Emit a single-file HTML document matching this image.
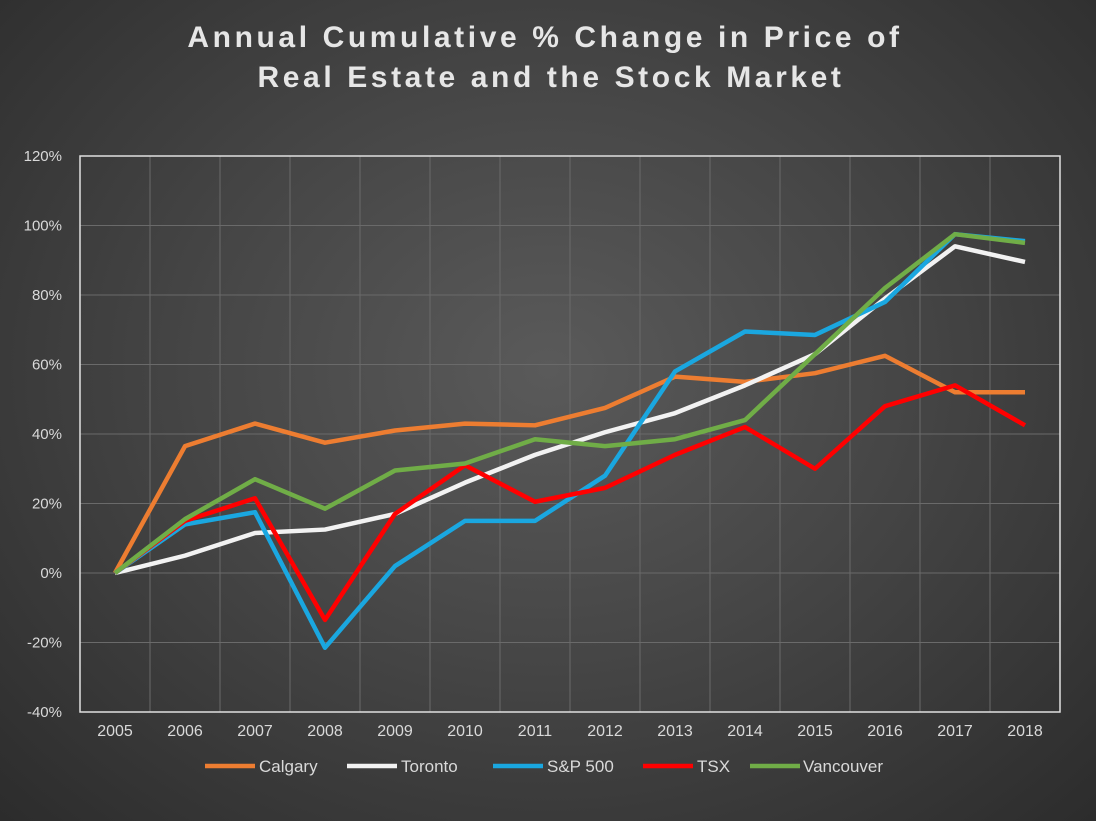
<!DOCTYPE html>
<html><head><meta charset="utf-8"><style>
html,body{margin:0;padding:0;width:1096px;height:821px;overflow:hidden}
body{background:radial-gradient(ellipse at 50% 45%,#5a5a5a 0%,#464646 45%,#2c2c2c 100%);font-family:"Liberation Sans",sans-serif}
</style></head><body>
<svg id="c" width="1096" height="821" style="position:absolute;left:0;top:0">
<text x="545" y="47" text-anchor="middle" fill="#e6e6e6" font-size="30" font-weight="bold" letter-spacing="3.6">Annual Cumulative % Change in Price of</text>
<text x="551" y="87" text-anchor="middle" fill="#e6e6e6" font-size="30" font-weight="bold" letter-spacing="3.6">Real Estate and the Stock Market</text>
</svg>
<script>
const years=["2005","2006","2007","2008","2009","2010","2011","2012","2013","2014","2015","2016","2017","2018"];
const yTicks=[-40,-20,0,20,40,60,80,100,120];
const seriesNames=["Calgary","Toronto","S&P 500","TSX","Vancouver"];
const calgary=[0,36.5,43,37.5,41,43,42.5,47.5,56.5,55,57.5,62.5,52,52];
const toronto=[0,5,11.5,12.5,17,26,34,40.5,46,54,63,79,94,89.5];
const sp500=[0,14,17.5,-21.5,2,15,15,28,58,69.5,68.5,78,97.5,95.5];
const tsx=[0,15,21.5,-13.5,17,31,20.5,24.5,34,42,30,48,54,42.5];
const vancouver=[0,15.5,27,18.5,29.5,31.5,38.5,36.5,38.5,44,63,82,97.5,95];
const colors=["#ed7d31","#f2f2f2","#1aa7e0","#ff0000","#70ad47"];
const L=80,R=1060,T=156,B=712,yMin=-40,yMax=120;
const bw=(R-L)/years.length;
const xs=i=>L+bw*(i+0.5);
const ys=v=>B-(v-yMin)/(yMax-yMin)*(B-T);
const svg=document.getElementById('c');
const NS="http://www.w3.org/2000/svg";
function mk(t,a){const e=document.createElementNS(NS,t);for(const k in a)e.setAttribute(k,a[k]);svg.appendChild(e);return e;}
yTicks.forEach(v=>{
 const g=mk('line',{x1:L,x2:R,y1:ys(v),y2:ys(v),stroke:'#6a6a6a','stroke-width':1});
 
 
 const t=mk('text',{x:62,y:ys(v)+5,'text-anchor':'end',fill:'#d9d9d9','font-size':15});
 t.textContent=v+'%';
 
 
});
years.forEach((y,i)=>{
 if(i>0){const g=mk('line',{x1:L+bw*i,x2:L+bw*i,y1:T,y2:B,stroke:'#6a6a6a','stroke-width':1});
 
 }
 const t=mk('text',{x:xs(i),y:736,'text-anchor':'middle',fill:'#d9d9d9','font-size':16});
 t.textContent=y;
 
 
});
const fr=mk('rect',{x:L,y:T,width:R-L,height:B-T,fill:'none',stroke:'#e0e0e0','stroke-width':1.5});


const data=[calgary,toronto,sp500,tsx,vancouver];
const keys=["calgary","toronto","sp500","tsx","vancouver"];
data.forEach((d,s)=>{
 const p=mk('polyline',{points:d.map((v,i)=>xs(i)+','+ys(v)).join(' '),fill:'none',stroke:colors[s],'stroke-width':4.5,'stroke-linejoin':'round'});
 
 
});
const legX=[205,347,493,643,750];
seriesNames.forEach((n,s)=>{
 const l=mk('line',{x1:legX[s],x2:legX[s]+50,y1:766,y2:766,stroke:colors[s],'stroke-width':4.5});
 
 
 const t=mk('text',{x:legX[s]+(s==4?53:54),y:772,fill:'#d9d9d9','font-size':17});
 t.textContent=n;
 
 
});
</script>
</body></html>
